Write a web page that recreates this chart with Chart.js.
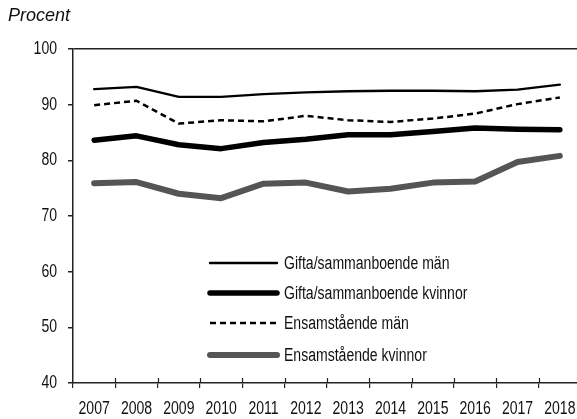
<!DOCTYPE html>
<html>
<head>
<meta charset="utf-8">
<script src="https://cdn.jsdelivr.net/npm/chart.js@4"></script>
<style>
  html, body { margin: 0; padding: 0; overflow: hidden; background: #fff; }
  #wrap { width: 577px; height: 419px; overflow: hidden; }
</style>
</head>
<body>
<div id="wrap"><canvas id="chart" width="581" height="419"></canvas></div>
<script>
const years = ["2007", "2008", "2009", "2010", "2011", "2012", "2013", "2014", "2015", "2016", "2017", "2018"];
const giftaMan = [92.8, 93.2, 91.4, 91.4, 91.9, 92.2, 92.4, 92.5, 92.5, 92.4, 92.7, 93.6];
const giftaKvinnor = [83.6, 84.4, 82.8, 82.1, 83.2, 83.8, 84.6, 84.6, 85.2, 85.8, 85.6, 85.5];
const ensamMan = [89.9, 90.7, 86.6, 87.2, 87.0, 88.0, 87.2, 86.9, 87.5, 88.4, 90.1, 91.3];
const ensamKvinnor = [75.9, 76.1, 74.0, 73.2, 75.8, 76.0, 74.4, 74.9, 76.0, 76.2, 79.7, 80.8];
const yTicks = [40, 50, 60, 70, 80, 90, 100];

// the reference uses a condensed face; squeeze Liberation Sans sideways
const labelFont = "18px 'Liberation Sans', Arial, sans-serif";
const squeeze = 0.78;

function narrowText(ctx, text, x, y, align) {
  ctx.save();
  ctx.translate(x, y);
  ctx.scale(squeeze, 1);
  ctx.font = labelFont;
  ctx.textAlign = align;
  ctx.textBaseline = "middle";
  ctx.fillText(text, 0, 0);
  ctx.restore();
}

const extras = {
  id: "extras",
  afterDraw(chart) {
    const ctx = chart.ctx;
    const x = chart.scales.x;
    const y = chart.scales.y;
    ctx.save();
    ctx.fillStyle = "#111";
    ctx.font = "italic 18px 'Liberation Sans', Arial, sans-serif";
    ctx.textBaseline = "middle";
    ctx.fillText("Procent", 8, 16);

    // x ticks cross the axis line
    ctx.strokeStyle = "#222";
    ctx.lineWidth = 1.2;
    for (let i = 1; i < years.length; i++) {
      const px = Math.round((x.getPixelForValue(i - 1) + x.getPixelForValue(i)) / 2) + 0.5;
      ctx.beginPath();
      ctx.moveTo(px, x.top - 5);
      ctx.lineTo(px, x.top);
      ctx.stroke();
    }

    years.forEach((yr, i) => narrowText(ctx, yr, x.getPixelForValue(i), 409, "center"));
    yTicks.forEach((v) => narrowText(ctx, String(v), 57, y.getPixelForValue(v), "right"));

    const rows = [263, 293, 323, 355];
    chart.data.datasets.forEach((ds, i) => {
      const ry = rows[i];
      ctx.beginPath();
      ctx.strokeStyle = ds.borderColor;
      ctx.lineWidth = ds.borderWidth;
      ctx.lineCap = ds.borderDash.length ? "butt" : "round";
      ctx.setLineDash(ds.borderDash);
      ctx.moveTo(210, ry);
      ctx.lineTo(277, ry);
      ctx.stroke();
      ctx.setLineDash([]);
      narrowText(ctx, ds.label, 284, ry + 1, "left");
    });
    ctx.restore();
  },
};

function line(label, data, color, width, dash) {
  return {
    label,
    data,
    borderColor: color,
    borderWidth: width,
    borderDash: dash,
    borderCapStyle: dash.length ? "butt" : "round",
    borderJoinStyle: "round",
    pointRadius: 0,
    tension: 0,
    fill: false,
  };
}

new Chart(document.getElementById("chart"), {
  type: "line",
  data: {
    labels: years,
    datasets: [
      line("Gifta/sammanboende män", giftaMan, "#000", 2.4, []),
      line("Gifta/sammanboende kvinnor", giftaKvinnor, "#000", 5.5, []),
      line("Ensamstående män", ensamMan, "#000", 2.5, [6, 4]),
      line("Ensamstående kvinnor", ensamKvinnor, "#555", 6, []),
    ],
  },
  options: {
    responsive: false,
    animation: false,
    layout: { padding: { top: 49, left: 0, right: 0, bottom: 0 } },
    plugins: { legend: { display: false }, tooltip: { enabled: false }, title: { display: false } },
    scales: {
      x: {
        offset: true,
        afterFit: (s) => { s.height = 36; },
        border: { display: true, color: "#222", width: 1.5 },
        grid: { offset: true, drawOnChartArea: false, tickLength: 5, color: "#222", lineWidth: 1.2 },
        ticks: { display: false, autoSkip: false },
      },
      y: {
        min: 40,
        max: 100,
        afterFit: (s) => { s.width = 73; },
        afterBuildTicks: (s) => { s.ticks = yTicks.map((v) => ({ value: v })); },
        border: { display: true, color: "#222", width: 1.5 },
        grid: {
          tickLength: 5,
          color: (c) => (c.tick && c.tick.value === 100 ? "#222" : "rgba(0,0,0,0)"),
          tickColor: "#222",
          lineWidth: 1.5,
        },
        ticks: { display: false },
      },
    },
  },
  plugins: [extras],
});
</script>
</body>
</html>
